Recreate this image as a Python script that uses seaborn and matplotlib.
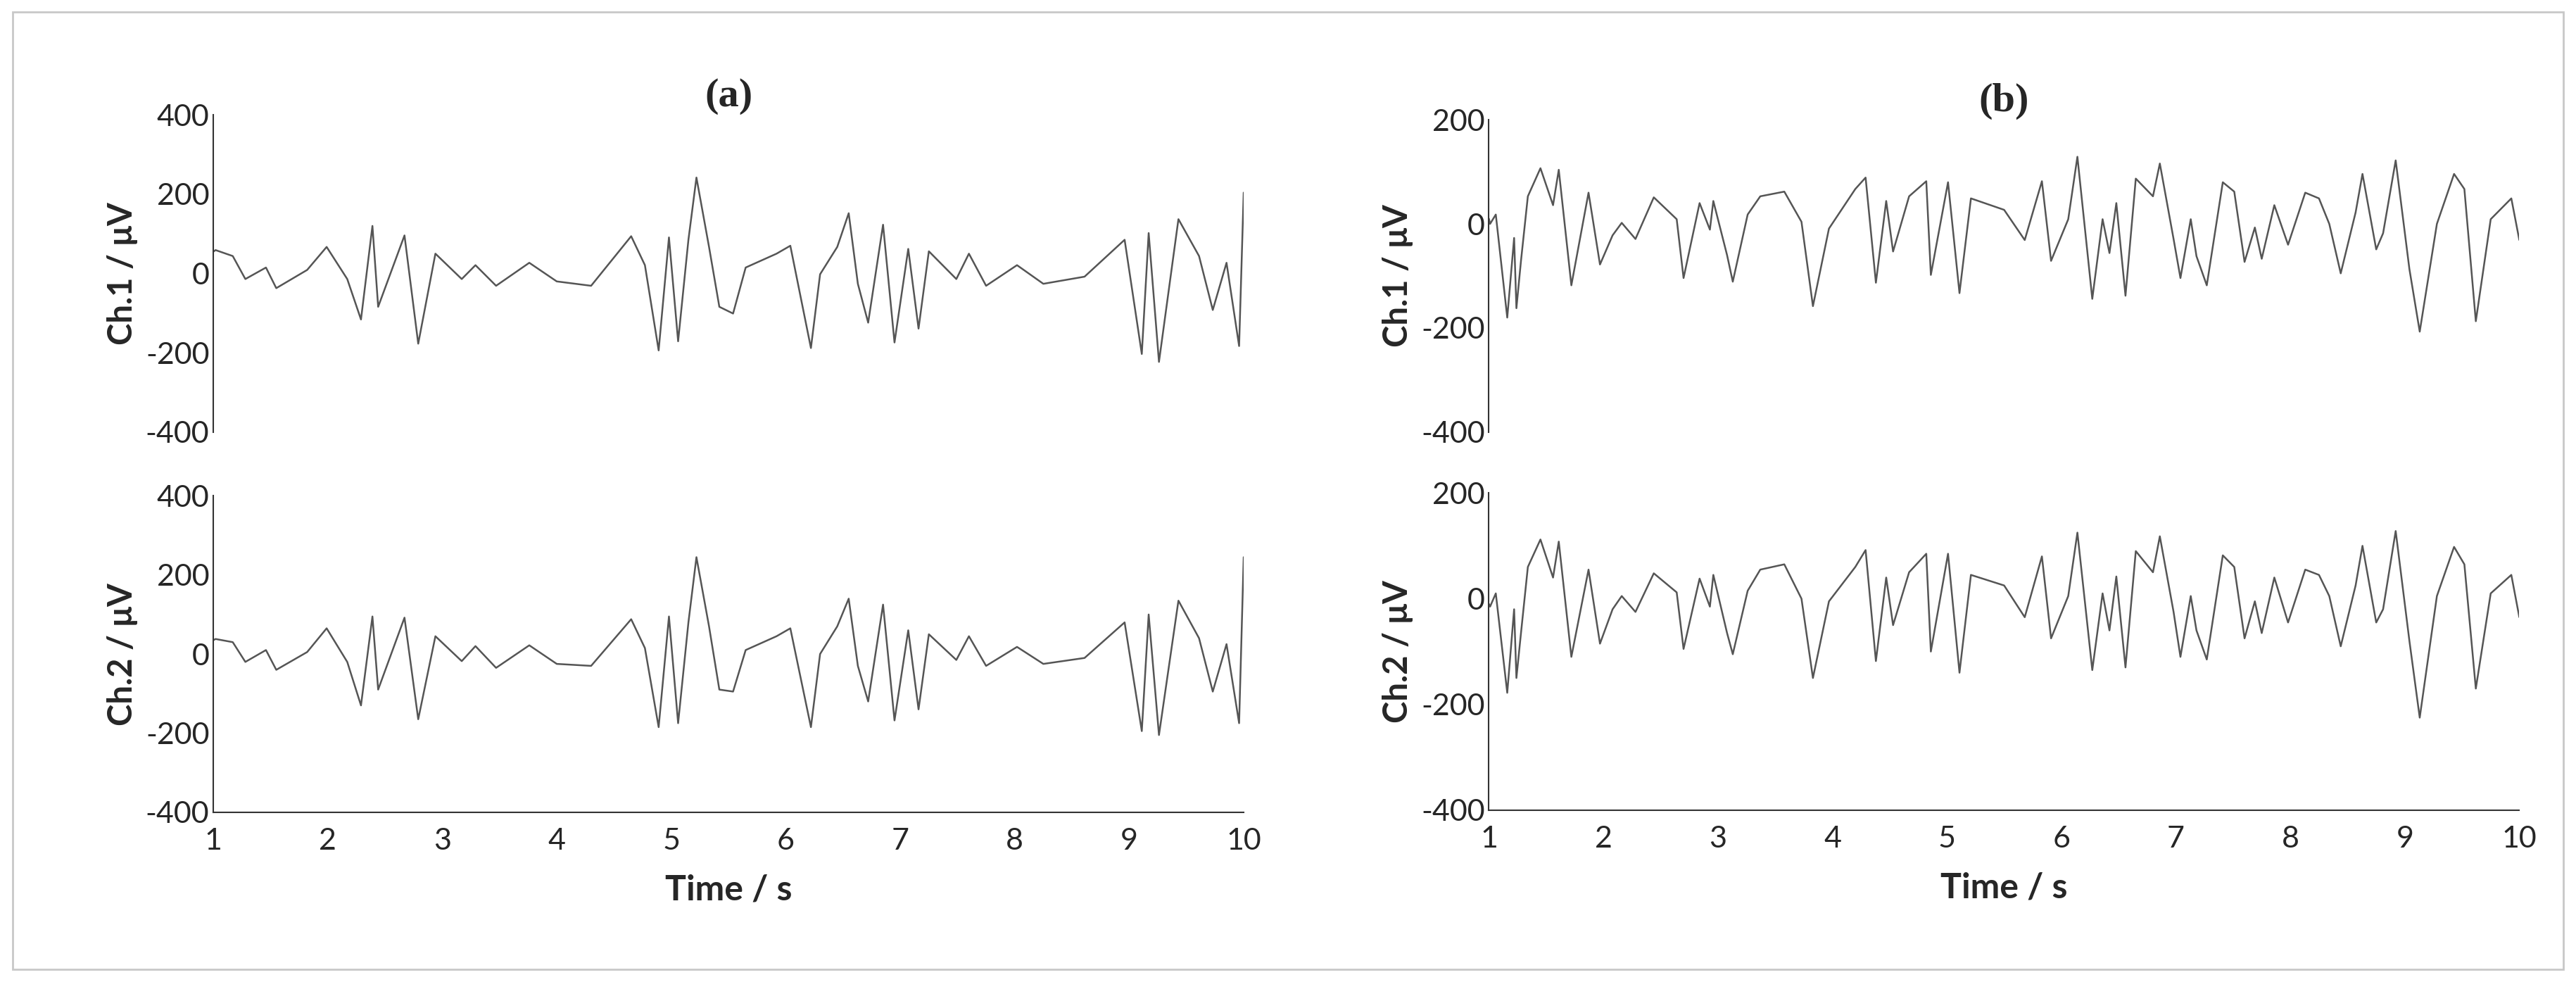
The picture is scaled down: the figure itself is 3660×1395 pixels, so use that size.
import numpy as np
import pandas as pd
import matplotlib
matplotlib.use("Agg")
import matplotlib.pyplot as plt
import seaborn as sns
from matplotlib.patches import Rectangle

sns.set_theme(style="white")
plt.rcParams['font.family'] = ['Lato', 'DejaVu Sans']

# ---- data ----
a_t = [1.00, 1.02, 1.17, 1.28, 1.46, 1.55, 1.82, 1.99, 2.17, 2.29, 2.39, 2.44, 2.67, 2.79, 2.94, 3.17,
       3.29, 3.47, 3.76, 4.00, 4.30, 4.65, 4.77, 4.89, 4.98, 5.06, 5.15, 5.22, 5.33, 5.42, 5.54,
       5.65, 5.92, 6.04, 6.22, 6.30, 6.45, 6.55, 6.63, 6.72, 6.85, 6.95, 7.07, 7.16, 7.25, 7.49,
       7.60, 7.75, 8.02, 8.25, 8.61, 8.96, 9.11, 9.17, 9.26, 9.43, 9.61, 9.73, 9.85, 9.96, 10.00]
a_ch1 = [55, 59, 44, -14, 15, -37, 9, 67, -14, -116, 120, -84, 96, -177, 50, -14,
         21, -31, 27, -20, -31, 94, 21, -194, 91, -171, 85, 242, 67, -84, -101,
         15, 50, 70, -188, -2, 67, 152, -26, -124, 123, -174, 62, -139, 56, -14,
         50, -31, 21, -26, -8, 85, -203, 102, -223, 137, 44, -92, 27, -183, 204]
a_ch2 = [35, 38, 30, -20, 10, -40, 5, 65, -20, -130, 95, -90, 92, -165, 45, -18,
         20, -35, 22, -25, -30, 88, 15, -185, 95, -175, 80, 245, 70, -90, -95,
         10, 45, 65, -185, 0, 70, 140, -30, -120, 125, -168, 60, -140, 50, -15,
         45, -30, 18, -25, -10, 80, -195, 100, -205, 135, 40, -95, 25, -175, 245]

b_t = [1.00, 1.01, 1.06, 1.16, 1.22, 1.24, 1.28, 1.34, 1.45, 1.56, 1.61, 1.72, 1.87, 1.97, 2.08, 2.16,
       2.28, 2.44, 2.64, 2.70, 2.84, 2.93, 2.96, 3.08, 3.13, 3.26, 3.37, 3.58, 3.73, 3.83,
       3.97, 4.20, 4.29, 4.38, 4.47, 4.53, 4.67, 4.82, 4.86, 5.01, 5.11, 5.21, 5.50, 5.68,
       5.83, 5.91, 6.06, 6.14, 6.27, 6.36, 6.42, 6.48, 6.56, 6.65, 6.80, 6.86, 6.98, 7.04,
       7.13, 7.18, 7.27, 7.41, 7.51, 7.60, 7.69, 7.75, 7.86, 7.98, 8.13, 8.25, 8.34, 8.44,
       8.57, 8.63, 8.75, 8.81, 8.92, 9.04, 9.13, 9.28, 9.43, 9.52, 9.62, 9.75, 9.93, 10.00]
b_ch1 = [10, 0, 18, -180, -27, -162, -71, 53, 107, 36, 104, -118, 60, -78, -22, 2,
         -29, 51, 9, -104, 40, -11, 44, -60, -111, 18, 53, 62, 4, -158,
         -9, 67, 89, -113, 44, -53, 53, 82, -98, 80, -133, 49, 27, -31,
         82, -71, 9, 129, -144, 9, -56, 40, -138, 87, 53, 116, -29, -104,
         9, -62, -118, 80, 62, -73, -7, -67, 36, -40, 60, 49, 0, -95,
         22, 96, -49, -18, 122, -87, -207, 0, 96, 67, -187, 9, 49, -31]
b_ch2 = [-10, -15, 10, -178, -20, -150, -65, 60, 112, 40, 108, -110, 55, -85, -20, 5,
         -25, 48, 12, -95, 38, -15, 45, -65, -105, 15, 55, 65, 0, -150,
         -5, 60, 92, -118, 40, -50, 50, 85, -100, 85, -140, 45, 25, -35,
         80, -75, 5, 125, -135, 10, -60, 42, -130, 90, 50, 118, -25, -110,
         5, -60, -115, 82, 60, -75, -5, -65, 40, -45, 55, 45, 5, -90,
         25, 100, -45, -20, 128, -80, -225, 5, 98, 65, -170, 10, 45, -35]

a_yticks = [-400, -200, 0, 200, 400]
b_yticks = [-400, -200, 0, 200]
x_ticks = list(range(1, 11))
panel_titles = ["(a)", "(b)"]
ch_labels = ["Ch.1 / \u03bcV", "Ch.2 / \u03bcV"]

fig = plt.figure(figsize=(36.6, 13.95), dpi=100)
fig.patches.append(Rectangle((0.005, 0.013), 0.99, 0.975, transform=fig.transFigure,
                             fill=False, edgecolor='#c8c8c8', linewidth=2))

panels = [
    (0.0828, [(0.560, 0.323), (0.173, 0.322)], a_t, [a_ch1, a_ch2], a_yticks, (-400, 400)),
    (0.578, [(0.560, 0.318), (0.175, 0.323)], b_t, [b_ch1, b_ch2], b_yticks, (-400, 200)),
]
lc = '#555555'
for pi, (left, rows, t, chs, yt, ylim) in enumerate(panels):
    for ri, ((bottom, h), y) in enumerate(zip(rows, chs)):
        ax = fig.add_axes([left, bottom, 0.400, h])
        df = pd.DataFrame({"t": t, "v": y})
        sns.lineplot(data=df, x="t", y="v", ax=ax, color=lc, linewidth=1.8)
        ax.set_xlim(1, 10)
        ax.set_ylim(*ylim)
        ax.set_yticks(yt)
        ax.set_yticklabels([str(v) for v in yt], fontsize=31)
        ax.set_ylabel(ch_labels[ri], fontsize=34, fontweight='bold', labelpad=8)
        for s in ['top', 'right']:
            ax.spines[s].set_visible(False)
        ax.spines['left'].set_color('#333333')
        ax.spines['left'].set_linewidth(1.5)
        ax.tick_params(axis='y', direction='in', length=5, width=1.5, pad=4, color='#333333')
        if ri == 0:
            ax.spines['bottom'].set_visible(False)
            ax.set_xticks([])
            ax.set_xlabel("")
            ax.set_title(panel_titles[pi], fontsize=42, fontweight='bold',
                         family=['Liberation Serif', 'DejaVu Serif'], pad=2)
        else:
            ax.spines['bottom'].set_color('#333333')
            ax.spines['bottom'].set_linewidth(1.5)
            ax.set_xticks(x_ticks)
            ax.set_xticklabels([str(v) for v in x_ticks], fontsize=31)
            ax.tick_params(axis='x', direction='in', length=5, width=1.5, pad=16, color='#333333')
            ax.set_xlabel("Time / s", fontsize=36, fontweight='bold', labelpad=20)

fig.savefig("out.png", dpi=100)
